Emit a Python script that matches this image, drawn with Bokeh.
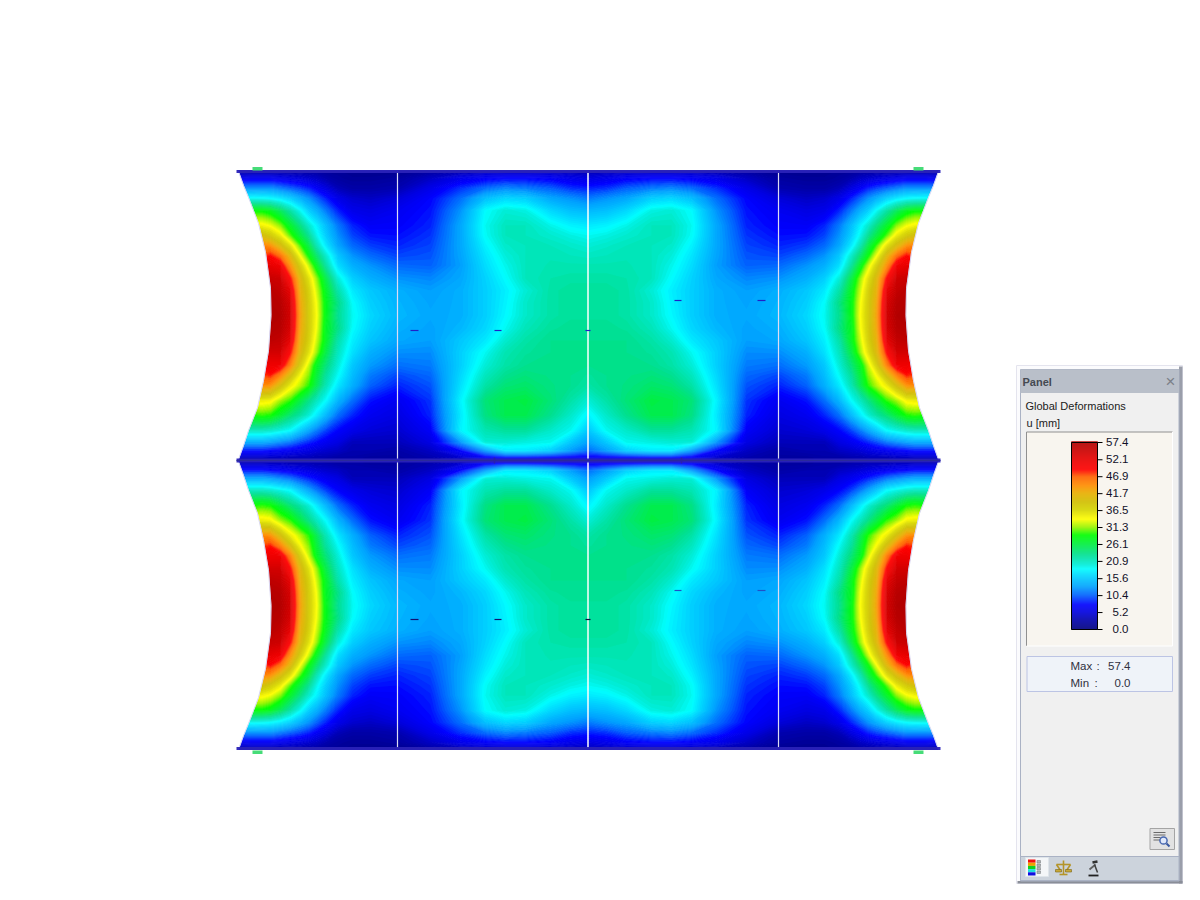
import numpy as np
from bokeh.plotting import figure
from bokeh.models import Range1d
from bokeh.core.properties import value
from bokeh.embed import file_html
from bokeh.resources import INLINE

# ---------- data ----------
title = "Global Deformations"
quantity = "u [mm]"
legend_ticks = [57.4, 52.1, 46.9, 41.7, 36.5, 31.3, 26.1, 20.9, 15.6, 10.4, 5.2, 0.0]
max_value = 57.4
min_value = 0.0

color_stop_values = [0, 3, 5.3, 7.5, 10.4, 13, 16.5, 18.6, 19.6, 20.9, 23, 26.1, 28.9, 31.3, 33.8, 36.5, 39, 41.7, 44, 46.9, 49, 52.1, 57.4]
color_stop_r = [0, 0, 0, 0, 0, 0, 0, 0, 0, 0, 0, 0, 0, 150, 255, 216, 208, 232, 255, 255, 255, 232, 176]
color_stop_g = [0, 0, 0, 0, 96, 160, 216, 255, 240, 232, 224, 240, 255, 245, 255, 216, 192, 176, 144, 96, 0, 0, 0]
color_stop_b = [128, 176, 224, 255, 255, 255, 255, 255, 224, 192, 144, 64, 0, 0, 0, 0, 0, 0, 0, 0, 0, 0, 0]

# grid of one quarter of the surface (page pixel positions), the others are its mirror images
x_nodes = [237, 250, 262, 270, 280, 290, 300, 308, 316, 325, 337, 352, 370, 397, 430, 460, 485, 505, 525, 550, 570, 588]
y_nodes = [170, 178, 188, 198, 210, 225, 235, 245, 255, 265, 278, 290, 302, 315, 328, 340, 352, 365, 375, 385, 400, 415, 430, 442, 450, 457, 460]
u_mm = [
 [2, 2, 2, 2, 2, 2, 2, 2, 2, 1.5, 1.5, 1, 1, 1, 2, 2.5, 3, 3, 3, 3, 3, 3],
 [6, 6.5, 6.5, 6.5, 6, 5.5, 5, 4.5, 4, 3, 2, 1.5, 1.5, 2, 4, 6, 7, 7.5, 7.5, 7, 6, 5.5],
 [12, 12.5, 12.5, 12.5, 11.5, 10.5, 9.5, 8.5, 7, 5.5, 3.5, 2.5, 2.5, 3, 6, 9, 11, 12, 11.5, 10.5, 9, 8.5],
 [19, 19, 18.8, 18.5, 17.5, 16, 14, 12.5, 10.5, 8.5, 6, 4.5, 4, 5, 7.5, 11, 15, 16.5, 16, 13.5, 12.5, 11.5],
 [28, 28.5, 28.5, 27.5, 25, 22, 18.8, 16, 14, 11.5, 8.5, 6, 5.5, 6.5, 8, 12.5, 18.5, 20, 19.5, 16.5, 15, 14.5],
 [35, 35, 34.5, 33.5, 31, 27, 23.5, 20.5, 18, 15, 11.5, 8.5, 7, 7.2, 8.5, 13.5, 19, 21, 21, 19.3, 18, 17.5],
 [39.5, 39.5, 39.5, 38, 35, 30, 26, 23, 19.3, 16, 12.5, 9.5, 8, 7.8, 9, 13.5, 18.8, 21, 21, 20.3, 19.5, 19],
 [45, 45, 45, 44, 40, 35.5, 29.7, 26, 21.5, 17.6, 13.5, 10.8, 9.3, 8.5, 9.5, 13.5, 18, 20.5, 21, 21, 20.5, 20],
 [48, 48, 47.5, 49, 46, 40.5, 33.5, 28.5, 24.5, 20.5, 15.5, 12.5, 10.8, 9.5, 10, 13.3, 17.3, 19.8, 21, 21.3, 21, 20.8],
 [52, 52, 52, 52, 51, 44, 37.5, 32.5, 27.5, 22.5, 17, 14, 12.5, 10.8, 10.5, 13, 16.8, 19.2, 21, 21.5, 21.5, 21.5],
 [55, 55, 55, 55, 54.5, 49, 40.5, 36, 31.3, 26, 20, 16, 14, 12.5, 12, 13.5, 16.2, 18.5, 21, 21.8, 22, 22],
 [56.5, 56.5, 56.5, 56.5, 55.5, 52, 41.5, 37.5, 32.6, 27.5, 22, 17.5, 15.5, 14, 13, 14, 16, 17.8, 20, 22, 22.5, 22.5],
 [57, 57, 57, 57, 56.5, 53.5, 42.5, 38, 33.6, 28, 23.5, 18.6, 16, 14.3, 13.3, 14, 16, 18, 20.5, 22, 22.5, 22.5],
 [57, 57, 57, 57, 57, 54, 43, 38, 34, 28, 23, 19, 16.5, 14.5, 13.5, 14, 16, 18.3, 20.5, 22, 22.5, 22.5],
 [57, 57, 57, 57, 56.5, 53.5, 42.5, 38, 33.6, 27.5, 23.5, 18.6, 16, 14, 13.2, 14.5, 16.5, 19, 21.2, 22.5, 22.8, 22.8],
 [56, 56, 56, 56, 55.5, 52, 41.5, 37.5, 32.6, 27.5, 22, 17.8, 15.3, 13.5, 13, 15.5, 17.5, 20.3, 22, 23, 23, 23],
 [54, 54, 54, 54, 54, 49, 40.5, 36, 31.3, 26, 21, 17, 14, 12.3, 12.2, 16, 19, 21.5, 22.5, 23, 23, 23],
 [50, 50, 50, 51, 51, 45, 37.5, 32.5, 27.5, 24, 20, 15.5, 12.8, 11, 11.5, 16, 20, 22, 23, 23, 23, 23],
 [47.5, 47.5, 47.5, 48.5, 45, 39.5, 34, 31, 26.5, 22.5, 18.9, 14.8, 11.5, 9.6, 10.7, 16.5, 21, 23, 23.8, 23.3, 23, 22.5],
 [44.5, 44.5, 44.5, 44, 39.5, 35, 32, 29.5, 25.5, 21.5, 17.5, 14, 10.5, 8.5, 10, 17, 22, 24, 24.5, 23.5, 23, 22],
 [35, 35, 35, 34.5, 31.5, 29.5, 26, 23.5, 21, 18.6, 14.5, 11, 8, 6.5, 9, 18, 24, 25.5, 26, 24, 22, 20],
 [29, 29, 29.5, 29, 26.5, 24, 22, 20, 17.5, 14.5, 11, 8.5, 6.5, 5.5, 8.5, 17.5, 23.5, 25.5, 25.5, 23, 20.5, 18],
 [21, 21, 21, 20.5, 19.5, 18.4, 15.5, 13.5, 11.5, 9.5, 7.5, 6, 5, 4.5, 7, 18, 21.5, 22.5, 22.5, 20.5, 19, 15.5],
 [13.5, 13.5, 13.5, 13, 12, 11, 9.5, 8.5, 7.5, 6.5, 5.5, 3.5, 3.5, 3.5, 5.5, 12.5, 20, 20, 19.5, 19, 15.5, 13],
 [8, 8, 8, 7.5, 7, 6.5, 6, 5.5, 5, 4.5, 4, 3, 3, 2.5, 4, 7.5, 13, 17.5, 17.5, 16, 13, 11],
 [4, 4, 4, 4, 4, 3.5, 3.5, 3.5, 3, 3, 2.5, 2.5, 2, 2, 3, 4.5, 7, 8, 8, 7.5, 7, 6.5],
 [3, 3, 3, 3, 3, 3, 3, 3, 3, 2.5, 2.5, 2.5, 2, 2, 2.5, 3, 3.5, 4, 4, 4, 4, 4],
]
edge_y = [171, 185, 197, 223, 252, 288, 315, 350, 380, 407, 430, 445, 459]
edge_x = [238, 243, 248, 258, 265, 270, 270.5, 268, 263, 257, 248, 243, 238]

member_x = [397, 587.5, 778]
member_colors = ["#dcdcf4", "#ffffff", "#dcdcf4"]
member_w = [1.2, 1.5, 1.2]
chord_y = [171, 460, 748]
chord_w = [3, 4, 3]
dash_x0 = [410, 494, 585, 674, 757, 410, 494, 585, 674, 757]
dash_x1 = [418, 501, 590, 681, 765, 418, 501, 590, 681, 765]
dash_y = [330, 330, 330, 300, 300, 619, 619, 619, 590, 590]
dash_c = ["#2020c8"] * 5 + ["#101070", "#101070", "#101040", "#2050c8", "#2050c8"]
support_x0 = [252, 913, 252, 913]
support_y0 = [166.5, 166.5, 750, 750]


def cols(v):
    r = np.interp(v, color_stop_values, color_stop_r).astype(int)
    g = np.interp(v, color_stop_values, color_stop_g).astype(int)
    b = np.interp(v, color_stop_values, color_stop_b).astype(int)
    return ["#%02x%02x%02x" % t for t in zip(r, g, b)]


p = figure(width=1190, height=895, x_range=Range1d(0, 1190), y_range=Range1d(895, 0),
           toolbar_location=None, output_backend="svg", min_border=0,
           background_fill_color="white", border_fill_color="white")
p.axis.visible = False
p.grid.visible = False
p.outline_line_color = None

# ---------- surface ----------
xq = np.array(x_nodes, float)
yq = np.array(y_nodes, float)
zq = np.array(u_mm, float)
X_MIRROR, Y_MIRROR = 1176.0, 920.0
x_all = np.concatenate([xq, X_MIRROR - xq[-2::-1]])
y_all = np.concatenate([yq, Y_MIRROR - yq[-2::-1]])
z_half = np.concatenate([zq, zq[-2::-1, :]], axis=0)
z_all = np.concatenate([z_half, z_half[:, -2::-1]], axis=1)

for start in (0.0, 0.2):
    lv = np.r_[0.0, np.arange(start + 0.4, 57.6, 0.4), 58.0]
    centres = 0.5 * (lv[:-1] + lv[1:])
    p.contour(x_all, y_all, z_all, levels=lv, fill_color=cols(centres), line_color=None)

# white outside the curved free edges
ex, ey = np.array(edge_x, float), np.array(edge_y, float)
for fx, fy in [(0, 0), (1, 0), (0, 1), (1, 1)]:
    px = X_MIRROR - ex if fx else ex
    py = Y_MIRROR - ey if fy else ey
    outer = (X_MIRROR - 225) if fx else 225
    p.patch(np.r_[outer, px, outer], np.r_[py[0], py, py[-1]], fill_color="white", line_color="white", line_width=0.5)
    p.line(px, py, line_color="#d8d8f4", line_width=1)
p.quad(left=[225, 225], right=[1000, 1000], top=[160, 749.5], bottom=[169.5, 760], fill_color="white", line_color=None)

# ---------- members ----------
for mx, mc, mw in zip(member_x, member_colors, member_w):
    p.segment([mx], [171], [mx], [748], line_color=mc, line_width=mw)
for cy, cw in zip(chord_y, chord_w):
    p.segment([236], [cy], [940], [cy], line_color="#2a22b8", line_width=cw, alpha=0.95)
p.segment([236], [460], [940], [460], line_color="#2a2a9a", line_width=1.2)
p.segment(dash_x0, dash_y, dash_x1, dash_y, line_color=dash_c, line_width=1.2)
p.segment([494, 681], [457, 457], [494, 681], [463, 463], line_color="#2a22a8", line_width=1.5)
p.quad(left=support_x0, right=[x + 10 for x in support_x0], top=support_y0,
       bottom=[y + 3.5 for y in support_y0], fill_color="#46dc78", line_color=None)

# ---------- panel ----------
p.quad(left=[1016], right=[1182], top=[365], bottom=[883], fill_color="#fbfbfd", line_color="#e4e4ee", line_width=1)
p.quad(left=[1178.5], right=[1182], top=[366], bottom=[883], fill_color="#9a9eaa", line_color=None)
p.quad(left=[1017], right=[1182], top=[880.5], bottom=[883], fill_color="#8a8e98", line_color=None)
p.quad(left=[1020], right=[1178.5], top=[369], bottom=[880.5], fill_color="#f0f0f0", line_color="#aab2c4", line_width=1)
p.quad(left=[1020], right=[1178.5], top=[369], bottom=[392.5], fill_color="#b9bfc9", line_color=None)
p.quad(left=[1020], right=[1178.5], top=[856], bottom=[880], fill_color="#ccd3dc", line_color="#aab2c4", line_width=1)

# legend box
p.quad(left=[1026], right=[1172], top=[431.5], bottom=[645.5], fill_color="#f8f5ef", line_color=None)
p.segment([1026, 1026], [431.5, 431.5], [1172, 1026], [431.5, 645.5], line_color="#909090", line_width=1)
p.segment([1172, 1026], [431.5, 645.5], [1172, 1172], [645.5, 645.5], line_color="#ffffff", line_width=1)

# colour bar
BAR_TOP, BAR_BOTTOM = 442.0, 629.0
def bar_y(v):
    return BAR_BOTTOM - (np.asarray(v, float) - min_value) / (max_value - min_value) * (BAR_BOTTOM - BAR_TOP)

bar_values = np.linspace(min_value, max_value, 188)
step = bar_values[1] - bar_values[0]
p.quad(left=1071, right=1097, top=bar_y(bar_values + step), bottom=bar_y(bar_values),
       fill_color=cols(bar_values), line_color=cols(bar_values), line_width=0.4)
p.quad(left=[1071], right=[1097], top=[BAR_TOP], bottom=[BAR_BOTTOM], fill_color=None, line_color="black", line_width=1)
ty = bar_y(legend_ticks)
p.segment([1097] * len(ty), ty, [1102] * len(ty), ty, line_color="black", line_width=1)
p.text([1128] * len(ty), ty - 0.5, text=["%.1f" % t for t in legend_ticks], text_font=value("Liberation Sans"),
       text_font_size="11.5px", text_align="right", text_baseline="middle", text_color="#101028")

# max / min
p.quad(left=[1026.5], right=[1172], top=[656], bottom=[691], fill_color="#eff3f9", line_color="#bcc4e4", line_width=1)
p.text([1070, 1070], [665.5, 682.5], text=["Max", "Min"], text_font=value("Liberation Sans"), text_font_size="11.5px",
       text_baseline="middle", text_color="#303040")
p.text([1096, 1094], [665.5, 682.5], text=[":", ":"], text_font=value("Liberation Sans"), text_font_size="11.5px",
       text_baseline="middle", text_color="#303040")
p.text([1130, 1130], [665.5, 682.5], text=["%.1f" % max_value, "%.1f" % min_value], text_font=value("Liberation Sans"),
       text_font_size="11.5px", text_align="right", text_baseline="middle", text_color="#303040")

# headings
p.text([1022], [381], text=["Panel"], text_font=value("Liberation Sans"), text_font_size="11px", text_font_style="bold",
       text_baseline="middle", text_color="#454a52")
p.text([1170], [380.5], text=["×"], text_font=value("Liberation Sans"), text_font_size="17px", text_align="center",
       text_baseline="middle", text_color="#7c8088")
p.text([1025], [405], text=[title], text_font=value("Liberation Sans"), text_font_size="11px", text_baseline="middle", text_color="#202020")
p.text([1026], [422], text=[quantity], text_font=value("Liberation Sans"), text_font_size="11px", text_baseline="middle", text_color="#202020")

# magnifier button
p.quad(left=[1149.5], right=[1174], top=[828], bottom=[849], fill_color="#e2e2e2", line_color="#a4a4a4", line_width=1)
p.segment([1153, 1153, 1153, 1153], [832, 834.5, 837, 839.5], [1165, 1165, 1160, 1160], [832, 834.5, 837, 839.5],
          line_color="#6a6a6a", line_width=1)
p.circle([1163], [840], radius=3.6, fill_color="#dfe8fa", line_color="#4868b0", line_width=1.5)
p.segment([1166], [843], [1169], [846], line_color="#3858a0", line_width=2)

# footer icons
p.quad(left=[1025], right=[1048], top=[857], bottom=[876], fill_color="#f4f6f8", line_color="#dfe5ea", line_width=1)
p.quad(left=[1027.5] * 5, right=[1035] * 5, top=[859, 862.2, 865.4, 868.6, 871.8], bottom=[862.2, 865.4, 868.6, 871.8, 875],
       fill_color=["#f01010", "#f0a000", "#10d020", "#20e0e0", "#1010e0"], line_color=None)
p.quad(left=[1036.5] * 4, right=[1040] * 4, top=[860, 863.5, 867, 870.5], bottom=[862.5, 866, 869.5, 873],
       fill_color="#b0b4b8", line_color="#707478", line_width=0.5)
p.segment([1063, 1056, 1056, 1070, 1059], [860, 864, 864, 864, 874], [1063, 1070, 1060, 1066, 1067], [874, 864, 870, 870, 874],
          line_color="#b49428", line_width=1.6)
p.quad(left=[1055, 1065], right=[1061, 1071], top=[869, 869], bottom=[871.5, 871.5], fill_color="#c8a838", line_color="#7a6414", line_width=0.6)
p.segment([1089, 1092, 1088, 1094], [869, 862, 875, 864], [1095, 1097, 1098, 1097], [864, 861, 875, 872],
          line_color=["#606060", "#303030", "#202020", "#404040"], line_width=[1.8, 2.5, 1.8, 1.5])

open("out.html", "w").write(file_html(p, INLINE))
